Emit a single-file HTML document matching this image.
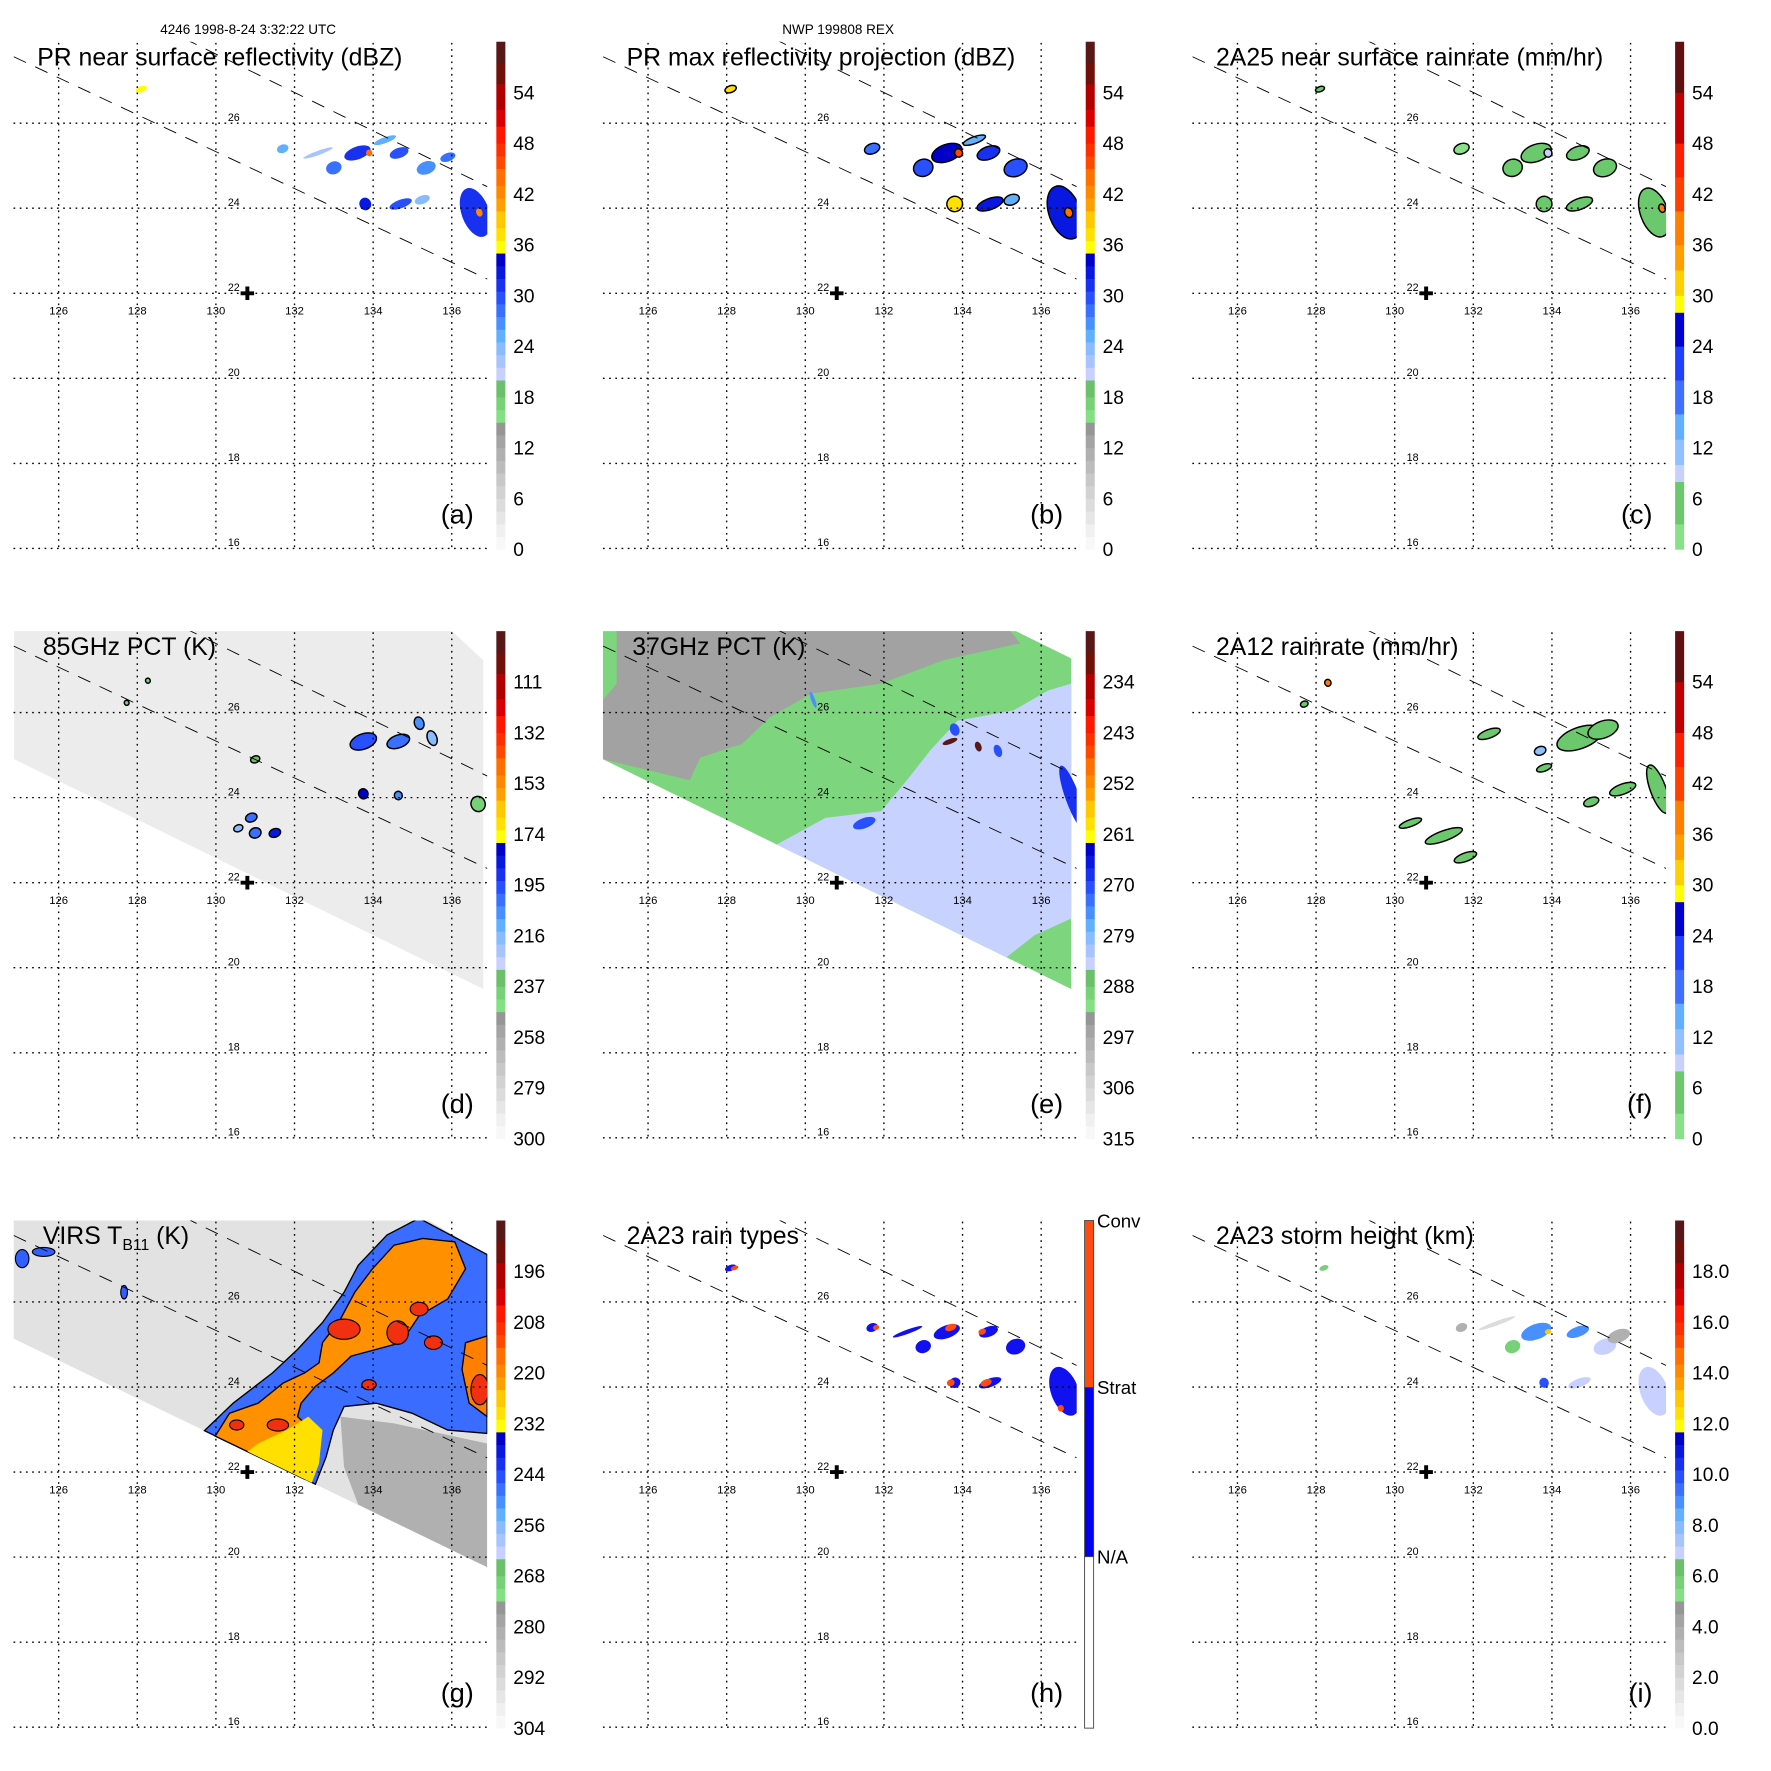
<!DOCTYPE html>
<html><head><meta charset="utf-8">
<style>
html,body{margin:0;padding:0;background:#fff;}
svg{display:block;font-family:"Liberation Sans",Arial,sans-serif;}
</style></head>
<body>
<svg id="fig" width="1771" height="1771" viewBox="0 0 1570 1570" xmlns="http://www.w3.org/2000/svg">
<defs><clipPath id="plotclip"><rect x="12" y="37" width="420" height="450"/></clipPath></defs>
<text x="220" y="30" font-size="12" text-anchor="middle">4246 1998-8-24 3:32:22 UTC</text>
<text x="743" y="30" font-size="12" text-anchor="middle">NWP 199808 REX</text>
</svg>
<script>
// ---- data arrays (lon, lat, rx deg, ry deg, value) ----
const lonTicks = [126,128,130,132,134,136];
const latTicks = [26,24,22,20,18,16];
const tickA = ['0','6','12','18','24','30','36','42','48','54'];
const tickD = ['300','279','258','237','216','195','174','153','132','111'];
const tickE = ['315','306','297','288','279','270','261','252','243','234'];
const tickG = ['304','292','280','268','256','244','232','220','208','196'];
const tickI = ['0.0','2.0','4.0','6.0','8.0','10.0','12.0','14.0','16.0','18.0'];
const blobsA = [[133.6,25.3,0.35,0.15,31],[134.66,25.3,0.25,0.12,30],[133.0,24.95,0.2,0.15,28],[133.8,24.1,0.15,0.15,33],[134.7,24.1,0.3,0.1,30],[135.35,24.95,0.25,0.15,27],[136.6,23.9,0.35,0.6,31],[131.7,25.4,0.15,0.1,26],[128.1,26.8,0.15,0.07,36],[134.3,25.6,0.3,0.07,25],[135.25,24.2,0.2,0.1,24],[132.6,25.3,0.4,0.05,22],[133.9,25.3,0.08,0.08,44],[136.7,23.9,0.08,0.1,42],[135.9,25.2,0.2,0.1,28]];
const blobsB = [[133.6,25.3,0.4,0.2,34],[134.66,25.3,0.3,0.15,32],[133.0,24.95,0.25,0.2,30],[133.8,24.1,0.2,0.18,38],[134.7,24.1,0.35,0.13,33],[135.35,24.95,0.3,0.2,30],[136.6,23.9,0.4,0.65,33],[131.7,25.4,0.2,0.12,28],[128.1,26.8,0.15,0.08,38],[134.3,25.6,0.3,0.08,26],[135.25,24.2,0.2,0.12,26],[133.9,25.3,0.1,0.1,46],[136.7,23.9,0.1,0.12,45]];
const blobsC = [[133.6,25.3,0.4,0.2,5],[134.66,25.3,0.3,0.15,5],[133.0,24.95,0.25,0.2,4],[133.8,24.1,0.2,0.18,6],[134.7,24.1,0.35,0.13,4],[135.35,24.95,0.3,0.2,4],[136.6,23.9,0.35,0.6,5],[131.7,25.4,0.2,0.12,3],[128.1,26.8,0.12,0.06,4],[133.9,25.3,0.1,0.1,10],[136.8,24.0,0.08,0.1,40]];
const blobsD = [[133.75,25.32,0.35,0.18,195],[134.64,25.32,0.3,0.15,200],[135.17,25.75,0.12,0.15,205],[135.5,25.4,0.12,0.18,215],[131.0,24.9,0.12,0.08,230],[130.57,23.28,0.12,0.08,215],[131.0,23.17,0.15,0.12,200],[131.5,23.17,0.15,0.1,185],[130.9,23.53,0.15,0.1,200],[133.75,24.09,0.12,0.12,180],[134.64,24.05,0.1,0.1,205],[136.67,23.85,0.18,0.18,240],[128.27,26.75,0.06,0.06,240],[127.73,26.23,0.06,0.06,240]];
const blobsE = [[133.68,25.32,0.2,0.06,172],[134.4,25.2,0.08,0.12,172],[133.8,25.6,0.12,0.15,270],[134.9,25.1,0.1,0.15,270],[136.8,24.0,0.18,0.8,268],[131.5,23.4,0.3,0.12,270],[130.2,26.3,0.05,0.2,275]];
const blobsF = [[128.3,26.7,0.08,0.08,40],[127.7,26.2,0.1,0.07,8],[131.25,23.1,0.5,0.12,5],[131.8,22.6,0.3,0.1,4],[130.4,23.4,0.3,0.08,4],[132.4,25.5,0.3,0.1,4],[134.7,25.4,0.6,0.25,6],[135.3,25.6,0.4,0.2,5],[135.8,24.2,0.35,0.12,4],[136.7,24.2,0.2,0.6,5],[133.8,24.7,0.2,0.08,4],[135.0,23.9,0.2,0.1,4],[133.7,25.1,0.15,0.1,12]];
const blobsH = [[133.6,25.3,0.35,0.15,1],[134.66,25.3,0.25,0.12,1],[133.0,24.95,0.2,0.15,1],[133.8,24.1,0.15,0.12,1],[134.7,24.1,0.3,0.1,1],[135.35,24.95,0.25,0.18,1],[136.6,23.9,0.35,0.6,1],[131.7,25.4,0.15,0.1,1],[128.1,26.8,0.15,0.07,1],[132.6,25.3,0.4,0.05,1],[133.7,25.4,0.15,0.08,2],[134.5,25.3,0.1,0.07,2],[133.7,24.1,0.1,0.08,2],[134.6,24.1,0.15,0.08,2],[131.8,25.4,0.08,0.06,2],[128.2,26.8,0.1,0.05,2],[136.5,23.5,0.08,0.08,2]];
const blobsI = [[133.6,25.3,0.4,0.18,9],[134.66,25.3,0.3,0.12,9],[133.0,24.95,0.2,0.15,6],[133.8,24.1,0.12,0.12,10],[134.7,24.1,0.3,0.1,7],[135.35,24.95,0.3,0.18,7],[136.6,23.9,0.35,0.6,7],[131.7,25.4,0.15,0.1,4],[128.2,26.8,0.12,0.06,6],[132.6,25.5,0.5,0.05,2],[133.9,25.3,0.08,0.06,13],[135.7,25.2,0.3,0.15,4]];

// ---- color schemes ----
const SCHEME_A = [[1.5,'#f8f8f8'],[3,'#f0f0f0'],[4.5,'#e6e6e6'],[6,'#dcdcdc'],[7.5,'#d2d2d2'],[9,'#c8c8c8'],[10.5,'#bcbcbc'],[12,'#b0b0b0'],[13.5,'#a4a4a4'],[15,'#969696'],[16.5,'#84e084'],[18,'#78d078'],[20,'#6cc06c'],[21.5,'#c8d0ff'],[23,'#a8c4ff'],[24.5,'#88bcff'],[26,'#60b0ff'],[27.5,'#4890ff'],[29,'#3a70ff'],[30.5,'#2850ff'],[32,'#1830f0'],[33.5,'#0818e0'],[35,'#0000c8'],[36.5,'#ffff00'],[38,'#ffe000'],[40,'#ffc800'],[41.5,'#ffa000'],[43,'#ff8800'],[45,'#ff7000'],[46.5,'#ff4800'],[48,'#ff3000'],[50,'#ff1800'],[52,'#d80000'],[55,'#b00000'],[57.5,'#701008'],[60,'#581818']];
const SCHEME_C = [[3,'#88e088'],[8,'#6cc86c'],[10,'#c8d0ff'],[13,'#90c0ff'],[16,'#60b0ff'],[20,'#4070ff'],[24,'#2040ff'],[28,'#0000d0'],[30,'#ffff00'],[33,'#ffd000'],[36,'#ffa000'],[40,'#ff8000'],[44,'#ff4000'],[48,'#ff2000'],[54,'#c00000'],[60,'#601010']];
function colorOf(s,v){for(const b of s){if(v<=b[0])return b[1];}return s[s.length-1][1];}

const NS='http://www.w3.org/2000/svg';
const fig=document.getElementById('fig');
function el(tag,parent){const e=document.createElementNS(NS,tag);parent.appendChild(e);return e;}
function X(lon){return 52+(lon-126)*34.85;}
function Y(lat){return 260-(lat-22)*37.7;}
function cbY(v){return 487-v*7.5;}

function drawBlobs(g,blobs,scheme,toVal,stroke){
  for(const b of blobs){
    const e=el('ellipse',g);
    
    
    e.setAttribute('cx',X(b[0]));e.setAttribute('cy',Y(b[1]));
    e.setAttribute('rx',b[2]*34.85);e.setAttribute('ry',b[3]*37.7);
    e.setAttribute('transform','rotate(-20 '+X(b[0])+' '+Y(b[1])+')');
    e.setAttribute('fill',colorOf(scheme,toVal(b[4])));
    if(stroke){e.setAttribute('stroke','#000');e.setAttribute('stroke-width','1.3');}
  }
}
function poly(g,pts,cx,cy,fill,stroke,name){
  const p=el('polygon',g);
  
  
  p.setAttribute('points',pts.map(q=>cx(q[0]).toFixed(1)+','+cy(q[1]).toFixed(1)).join(' '));
  p.setAttribute('fill',fill);
  if(stroke){p.setAttribute('stroke',stroke);p.setAttribute('stroke-width','1.2');}
}
function ell(g,x,y,rx,ry,fill,name){
  const e=el('ellipse',g);
  
  
  e.setAttribute('cx',x);e.setAttribute('cy',y);e.setAttribute('rx',rx);e.setAttribute('ry',ry);
  e.setAttribute('fill',fill);e.setAttribute('stroke','#000');e.setAttribute('stroke-width','1');
}

const dx=z=>52+(z-82)*0.617, dy=z=>24+z*0.2976;
const ex=z=>52+(z-925)*0.617;
const gx=z=>52+(z-162)*0.317, gy=z=>260+(z-765)*0.298;
function bgD(g){poly(g,[[18,30],[640,30],[692,130],[692,1110],[18,425]],dx,dy,'#ececec',null,'tmi-swath');}
function bgE(g){
  poly(g,[[860,30],[1440,30],[1533,125],[1533,1110],[860,425]],ex,dy,'#7dd67d',null,'tmi-swath');
  poly(g,[[880,30],[1440,30],[1460,80],[1350,130],[1260,200],[1160,230],[1100,300],[1060,380],[1000,420],[985,488],[860,425],[860,250],[880,200]],ex,dy,'#a2a2a2',null,'warm-region');
  poly(g,[[1110,679],[1180,600],[1260,580],[1300,480],[1330,400],[1370,310],[1450,280],[1500,220],[1533,200],[1533,900],[1480,950],[1440,1015]],ex,dy,'#c8d2ff',null,'cold-region');
}
function bgG(g){
  poly(g,[[36,0],[1170,0],[1360,118],[1360,1048],[36,368]],gx,gy,'#e2e2e2',null,'virs-swath');
  poly(g,[[950,600],[1100,620],[1360,680],[1360,1048],[1000,862],[960,750]],gx,gy,'#b0b0b0',null,'warm-cloud');
  poly(g,[[570,642],[650,560],[760,470],[830,400],[900,320],[960,230],[1000,150],[1080,60],[1170,10],[1360,118],[1360,650],[1250,640],[1150,590],[1050,560],[960,570],[930,640],[910,720],[880,801]],gx,gy,'#3a6cff','#000','cloud-shield');
  poly(g,[[600,658],[640,590],[720,560],[790,500],[850,470],[890,440],[900,380],[950,310],[990,230],[1040,160],[1100,90],[1180,70],[1270,80],[1300,160],[1250,250],[1170,300],[1120,380],[1050,400],[980,420],[930,470],[880,510],[840,560],[830,600],[870,640],[880,700],[870,770],[850,786]],gx,gy,'#ff9000','#000','cold-top');
  poly(g,[[690,704],[720,680],[800,640],[860,600],[900,640],[890,740],[870,797]],gx,gy,'#ffe000',null,'cirrus');
  poly(g,[[1300,380],[1360,360],[1360,600],[1310,560],[1290,460]],gx,gy,'#ff8000','#000','cold-top-east');
  const reds=[[960,340,45,30],[1110,350,30,35],[660,625,20,15],[775,625,30,18],[1030,505,20,15],[1340,520,25,45],[1170,280,25,20],[1210,380,25,20]];
  for(const r of reds) ell(g,gx(r[0]),gy(r[1]),r[2]*0.317,r[3]*0.298,'#f03010','coldest-core');
  ell(g,gx(120),gy(110),10,4,'#3060ff','cloud-fragment');
  ell(g,gx(60),gy(130),6,8,'#3060ff','cloud-fragment');
  ell(g,gx(345),gy(230),3,6,'#3060ff','cloud-fragment');
}

const panels=[
 {c:0,r:0,t:'PR near surface reflectivity (dBZ)',l:'(a)',cb:SCHEME_A,ticks:tickA,blobs:blobsA,val:v=>v,stroke:false},
 {c:1,r:0,t:'PR max reflectivity projection (dBZ)',l:'(b)',cb:SCHEME_A,ticks:tickA,blobs:blobsB,val:v=>v,stroke:true},
 {c:2,r:0,t:'2A25 near surface rainrate (mm/hr)',l:'(c)',cb:SCHEME_C,ticks:tickA,blobs:blobsC,val:v=>v,stroke:true},
 {c:0,r:1,t:'85GHz PCT (K)',l:'(d)',cb:SCHEME_A,ticks:tickD,blobs:blobsD,val:v=>(300-v)*54/189,stroke:true,bg:bgD},
 {c:1,r:1,t:'37GHz PCT (K)',l:'(e)',cb:SCHEME_A,ticks:tickE,blobs:blobsE,val:v=>(315-v)*6/9,stroke:false,bg:bgE},
 {c:2,r:1,t:'2A12 rainrate (mm/hr)',l:'(f)',cb:SCHEME_C,ticks:tickA,blobs:blobsF,val:v=>v,stroke:true},
 {c:0,r:2,t:'VIRS',l:'(g)',cb:SCHEME_A,ticks:tickG,blobs:[],val:v=>v,stroke:false,bg:bgG},
 {c:1,r:2,t:'2A23 rain types',l:'(h)',cb:null,ticks:null,blobs:blobsH,val:v=>v,stroke:false},
 {c:2,r:2,t:'2A23 storm height (km)',l:'(i)',cb:SCHEME_A,ticks:tickI,blobs:blobsI,val:v=>v*3,stroke:false}
];
const H_SCHEME=[[1,'#1010f0'],[2,'#ff4a10']];

panels.forEach((p,i)=>{
  const G=el('g',fig);
  
  
  G.setAttribute('transform','translate('+(p.c*522.5)+','+(p.r*522.5)+')');
  const plot=el('g',G);
  
  
  plot.setAttribute('clip-path','url(#plotclip)');
  if(p.bg) p.bg(plot);
  if(p.cb===null) drawBlobs(plot,p.blobs,H_SCHEME,v=>v,false);
  else drawBlobs(plot,p.blobs,p.cb,p.val,p.stroke);
  for(const lon of lonTicks){
    const ln=el('line',G);
    
    
    ln.setAttribute('x1',X(lon));ln.setAttribute('x2',X(lon));ln.setAttribute('y1',38);ln.setAttribute('y2',487);
    ln.setAttribute('stroke','#000');ln.setAttribute('stroke-width','1.2');ln.setAttribute('stroke-dasharray','1.5 4');
    const t=el('text',G);
    
    
    t.setAttribute('x',X(lon));t.setAttribute('y',279);t.setAttribute('font-size','10');t.setAttribute('text-anchor','middle');
    t.textContent=lon;
  }
  for(const lat of latTicks){
    const ln=el('line',G);
    
    
    ln.setAttribute('x1',12);ln.setAttribute('x2',432);ln.setAttribute('y1',Y(lat));ln.setAttribute('y2',Y(lat));
    ln.setAttribute('stroke','#000');ln.setAttribute('stroke-width','1.2');ln.setAttribute('stroke-dasharray','1.5 4');
    const t=el('text',G);
    
    
    t.setAttribute('x',202);t.setAttribute('y',Y(lat)-2);t.setAttribute('font-size','9.5');
    t.textContent=lat;
  }
  const sw=[[12.2,50.3,432,247.4],[163.5,34.3,432,165.5]];
  for(const s of sw){
    const ln=el('line',plot);
    
    
    ln.setAttribute('x1',s[0]);ln.setAttribute('y1',s[1]);ln.setAttribute('x2',s[2]);ln.setAttribute('y2',s[3]);
    ln.setAttribute('stroke','#000');ln.setAttribute('stroke-width','0.8');ln.setAttribute('stroke-dasharray','12 9');
  }
  const cr=el('path',G);
  
  
  const cx=X(130.8),cy=Y(22);
  cr.setAttribute('d','M'+(cx-6)+' '+cy+'h12M'+cx+' '+(cy-6)+'v12');
  cr.setAttribute('stroke','#000');cr.setAttribute('stroke-width','3.5');
  const tt=el('text',G);
  
  
  tt.setAttribute('x',i===3||i===4?38:33);tt.setAttribute('y',58);tt.setAttribute('font-size','22');
  if(i===6){
    tt.setAttribute('x',38);
    tt.textContent='VIRS T';
    const sb=el('tspan',tt);sb.setAttribute('font-size','14');sb.setAttribute('dy','5');sb.textContent='B11';
    const rs=el('tspan',tt);rs.setAttribute('dy','-5');rs.textContent=' (K)';
  } else tt.textContent=p.t;
  const lt=el('text',G);
  
  
  lt.setAttribute('x',420);lt.setAttribute('y',464);lt.setAttribute('font-size','24');lt.setAttribute('text-anchor','end');
  lt.textContent=p.l;
  const cbg=el('g',G);
  
  
  if(p.cb){
    let prev=0;
    for(const b of p.cb){
      const r=el('rect',cbg);
      
      
      r.setAttribute('x',440);r.setAttribute('width',8);
      r.setAttribute('y',cbY(b[0]));r.setAttribute('height',cbY(prev)-cbY(b[0])+0.3);
      r.setAttribute('fill',b[1]);
      prev=b[0];
    }
    p.ticks.forEach((lab,k)=>{
      const t=el('text',cbg);
      
      
      t.setAttribute('x',455);t.setAttribute('y',cbY(k*6)+6);t.setAttribute('font-size','17');
      t.textContent=lab;
    });
  } else {
    const segs=[[37,185,'#ff4a10','Conv'],[185,335,'#0000f0','Strat'],[335,487,'#ffffff','N/A']];
    for(const s of segs){
      const r=el('rect',cbg);
      
      
      r.setAttribute('x',439);r.setAttribute('y',s[0]);r.setAttribute('width',8);r.setAttribute('height',s[1]-s[0]);
      r.setAttribute('fill',s[2]);r.setAttribute('stroke','#444');r.setAttribute('stroke-width','0.8');
      const t=el('text',cbg);
      
      
      t.setAttribute('x',450);t.setAttribute('y',s[0]+6);t.setAttribute('font-size','16.5');
      t.textContent=s[3];
    }
  }
});
</script>
</body></html>
